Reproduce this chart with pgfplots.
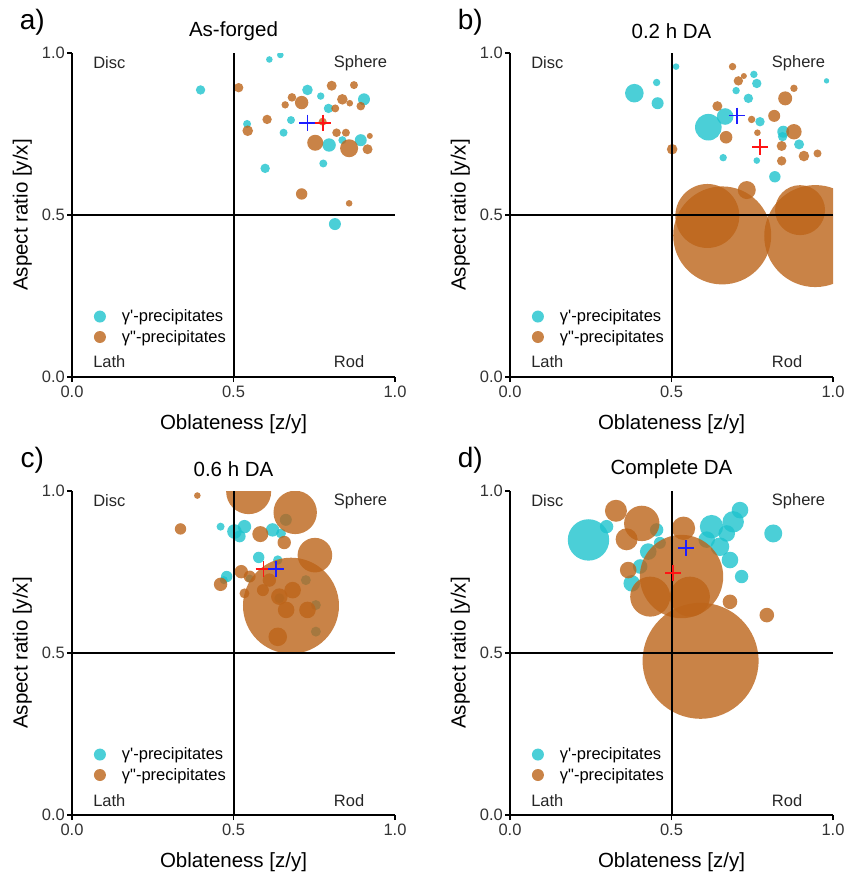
\documentclass[border=0pt]{standalone}
\usepackage{fontspec}
\setmainfont{Liberation Sans}
\usepackage{pgfplots}
\pgfplotsset{compat=1.18}
\usepackage{pgfplotstable}
\definecolor{cyanc}{RGB}{30,195,205}
\definecolor{brownc}{RGB}{188,100,25}
\definecolor{crossblue}{RGB}{30,30,255}
\definecolor{crossred}{RGB}{255,20,20}

\pgfplotstableread{
x y r
0.611 0.980 3.3
0.645 0.994 3.3
0.398 0.886 4.7
0.729 0.886 5.3
0.770 0.867 3.7
0.904 0.857 6.0
0.794 0.829 4.7
0.678 0.793 4.0
0.542 0.781 4.0
0.655 0.754 4.0
0.796 0.716 6.7
0.894 0.731 6.0
0.837 0.731 4.0
0.778 0.659 4.0
0.598 0.644 4.7
0.814 0.472 6.0
}\tAc
\pgfplotstableread{
x y r
0.516 0.893 4.7
0.804 0.899 5.0
0.873 0.901 4.0
0.681 0.863 4.3
0.711 0.847 6.7
0.660 0.840 3.7
0.837 0.857 5.3
0.860 0.845 3.3
0.815 0.829 4.0
0.894 0.836 4.3
0.604 0.795 4.7
0.776 0.788 4.0
0.544 0.760 5.3
0.819 0.754 4.3
0.848 0.754 4.0
0.753 0.723 8.0
0.858 0.706 9.0
0.915 0.703 5.0
0.922 0.744 3.0
0.711 0.565 5.7
0.858 0.536 3.3
}\tAb
\pgfplotstableread{
x y r
0.514 0.958 3.3
0.385 0.876 9.3
0.454 0.909 3.7
0.457 0.845 6.0
0.755 0.934 3.7
0.764 0.906 4.7
0.700 0.884 3.7
0.738 0.860 4.7
0.980 0.914 2.7
0.614 0.771 13.3
0.666 0.804 8.3
0.774 0.788 4.7
0.846 0.757 6.0
0.844 0.742 4.7
0.895 0.718 5.0
0.660 0.677 3.7
0.764 0.668 3.3
0.820 0.618 5.7
}\tBc
\pgfplotstableread{
x y r
0.689 0.958 3.7
0.724 0.929 3.0
0.707 0.914 4.7
0.879 0.891 3.7
0.852 0.860 7.0
0.642 0.836 5.0
0.818 0.806 6.0
0.748 0.795 3.7
0.766 0.754 3.3
0.879 0.757 7.7
0.669 0.740 6.3
0.841 0.713 5.0
0.910 0.682 5.3
0.952 0.690 4.0
0.841 0.667 4.7
0.502 0.703 5.3
0.657 0.437 49
0.611 0.497 32
0.945 0.435 51
0.898 0.515 25
0.733 0.577 9
}\tBb
\pgfplotstableread{
x y r
0.460 0.890 4.0
0.503 0.875 7.3
0.534 0.890 6.7
0.519 0.860 6.0
0.621 0.880 6.7
0.647 0.869 5.0
0.578 0.795 5.7
0.637 0.787 4.7
0.479 0.736 5.7
0.470 0.725 4.0
0.662 0.911 6.0
0.642 0.669 5.0
0.755 0.648 5.0
0.755 0.566 5.0
0.724 0.725 5.0
0.550 0.730 4.0
}\tCc
\pgfplotstableread{
x y r
0.547 0.998 22.5
0.691 0.934 21.7
0.388 0.986 3.3
0.336 0.883 5.7
0.583 0.867 8.0
0.657 0.841 6.7
0.752 0.802 17.3
0.678 0.646 48
0.524 0.751 6.7
0.460 0.712 6.7
0.550 0.736 6.0
0.611 0.725 6.7
0.534 0.684 5.0
0.591 0.694 6.0
0.642 0.674 8.3
0.683 0.694 8.3
0.663 0.633 8.3
0.729 0.633 8.3
0.637 0.550 9.3
}\tCb
\pgfplotstableread{
x y r
0.243 0.849 20.7
0.299 0.890 6.7
0.454 0.880 6.7
0.428 0.813 8.3
0.377 0.715 8.3
0.403 0.767 7.3
0.464 0.840 6.0
0.624 0.890 11.7
0.691 0.905 10.7
0.712 0.941 8.3
0.650 0.828 9.3
0.681 0.787 8.3
0.717 0.736 6.7
0.815 0.869 9.0
0.671 0.869 8.3
0.609 0.850 8.3
}\tDc
\pgfplotstableread{
x y r
0.328 0.939 11.0
0.408 0.900 17.7
0.361 0.851 11.0
0.537 0.885 11.7
0.531 0.736 41.7
0.366 0.756 8.3
0.434 0.674 20.0
0.557 0.674 20.0
0.681 0.658 7.3
0.795 0.617 7.3
0.590 0.476 58
}\tDb

\newcommand{\lfont}{\fontsize{16.5}{19}\selectfont}
\pgfplotsset{
  panel/.style={
    scale only axis, width=323pt, height=324pt,
    xmin=0,xmax=1,ymin=0,ymax=1,
    axis lines=left,
    axis line style={-, line width=1.6pt, black},
    xtick={0,0.5,1}, ytick={0,0.5,1},
    xticklabels={0.0,0.5,1.0}, yticklabels={0.0,0.5,1.0},
    tick align=outside, major tick length=5pt,
    tick style={line width=1.6pt, black},
    ticklabel style={font=\lfont, text=black!80},
    xticklabel style={inner sep=4pt},
    yticklabel style={inner sep=2pt},
    xlabel={Oblateness [z/y]}, ylabel={Aspect ratio [y/x]},
    label style={font=\fontsize{20.5}{24}\selectfont},
    xlabel style={at={(axis description cs:0.5,-0.145)}, anchor=center},
    ylabel style={at={(axis description cs:-0.154,0.5)}, anchor=center},
    title style={at={(axis description cs:0.5,1.05)}, anchor=center, font=\fontsize{20.5}{24}\selectfont},
    clip mode=individual,
    clip marker paths=true,
    legend style={draw=none, fill=none, at={(axis description cs:0.058,0.155)}, anchor=west,
      font=\lfont, row sep=3pt, inner sep=0pt, nodes={inner sep=2pt}},
    legend cell align=left,
    legend image code/.code={\pgfpathrectangle{\pgfpoint{0pt}{-3pt}}{\pgfpoint{29pt}{6pt}}\pgfusepath{use as bounding box}\draw[mark repeat=2,mark phase=2,##1] plot coordinates {(0pt,0pt) (9pt,0pt) (18pt,0pt)};},
  },
  bub/.style={scatter, only marks, mark=*, forget plot,
    scatter/use mapped color={draw opacity=0, fill=#1, fill opacity=0.8},
    mark options={draw opacity=0, line width=0pt},
    visualization depends on={\thisrow{r}\as\rr},
    scatter/@pre marker code/.append style={/tikz/mark size=\rr}},
  crs/.style={only marks, mark=+, mark size=8pt, mark options={line width=1.9pt, draw=#1}, color=#1, forget plot},
}
\newcommand{\quads}[1]{%
  \draw[black, line width=2.0pt] (axis cs:0.5,0) -- (axis cs:0.5,1);
  \draw[black, line width=1.8pt] (axis cs:0,0.5) -- (axis cs:1,0.5);
  \node[anchor=west, font=\lfont, text=black!85] at (axis description cs:0.055,0.969) {Disc};
  \node[anchor=west, font=\lfont, text=black!85] at (axis description cs:0.80,0.969) {Sphere};
  \node[anchor=west, font=\lfont, text=black!85] at (axis description cs:0.055,0.046) {Lath};
  \node[anchor=west, font=\lfont, text=black!85] at (axis description cs:0.80,0.046) {Rod};
  \node[font=\fontsize{28}{30}\selectfont] at (axis description cs:-0.123,1.096) {#1};
  \addlegendimage{only marks, mark=*, mark size=6pt, mark options={draw opacity=0, fill=cyanc, fill opacity=0.8}}
  \addlegendentry{γ\textquotesingle-precipitates}
  \addlegendimage{only marks, mark=*, mark size=6pt, mark options={draw opacity=0, fill=brownc, fill opacity=0.8}}
  \addlegendentry{γ\textquotedbl-precipitates}
}

\begin{document}
\begin{tikzpicture}
\useasboundingbox (0pt,0pt) rectangle (849pt,-873pt);
% a
\begin{axis}[panel, at={(72pt,-377pt)}, anchor=south west, title={As-forged}]
\addplot[bub=cyanc] table[x=x,y=y] {\tAc};
\addplot[bub=brownc] table[x=x,y=y] {\tAb};
\quads{a)}
\addplot[crs=crossblue] coordinates {(0.729,0.785)};
\addplot[crs=crossred] coordinates {(0.778,0.785)};
\end{axis}
% b
\begin{axis}[panel, at={(510pt,-377pt)}, anchor=south west, title={0.2 h DA}]
\addplot[bub=cyanc] table[x=x,y=y] {\tBc};
\addplot[bub=brownc] table[x=x,y=y] {\tBb};
\quads{b)}
\addplot[crs=crossblue] coordinates {(0.702,0.807)};
\addplot[crs=crossred] coordinates {(0.774,0.709)};
\end{axis}
% c
\begin{axis}[panel, at={(72pt,-815pt)}, anchor=south west, title={0.6 h DA}]
\addplot[bub=cyanc] table[x=x,y=y] {\tCc};
\addplot[bub=brownc] table[x=x,y=y] {\tCb};
\quads{c)}
\addplot[crs=crossred] coordinates {(0.593,0.758)};
\addplot[crs=crossblue] coordinates {(0.632,0.758)};
\end{axis}
% d
\begin{axis}[panel, at={(510pt,-815pt)}, anchor=south west, title={Complete DA}]
\addplot[bub=cyanc] table[x=x,y=y] {\tDc};
\addplot[bub=brownc] table[x=x,y=y] {\tDb};
\quads{d)}
\addplot[crs=crossblue] coordinates {(0.545,0.823)};
\addplot[crs=crossred] coordinates {(0.506,0.746)};
\end{axis}
\end{tikzpicture}
\end{document}
